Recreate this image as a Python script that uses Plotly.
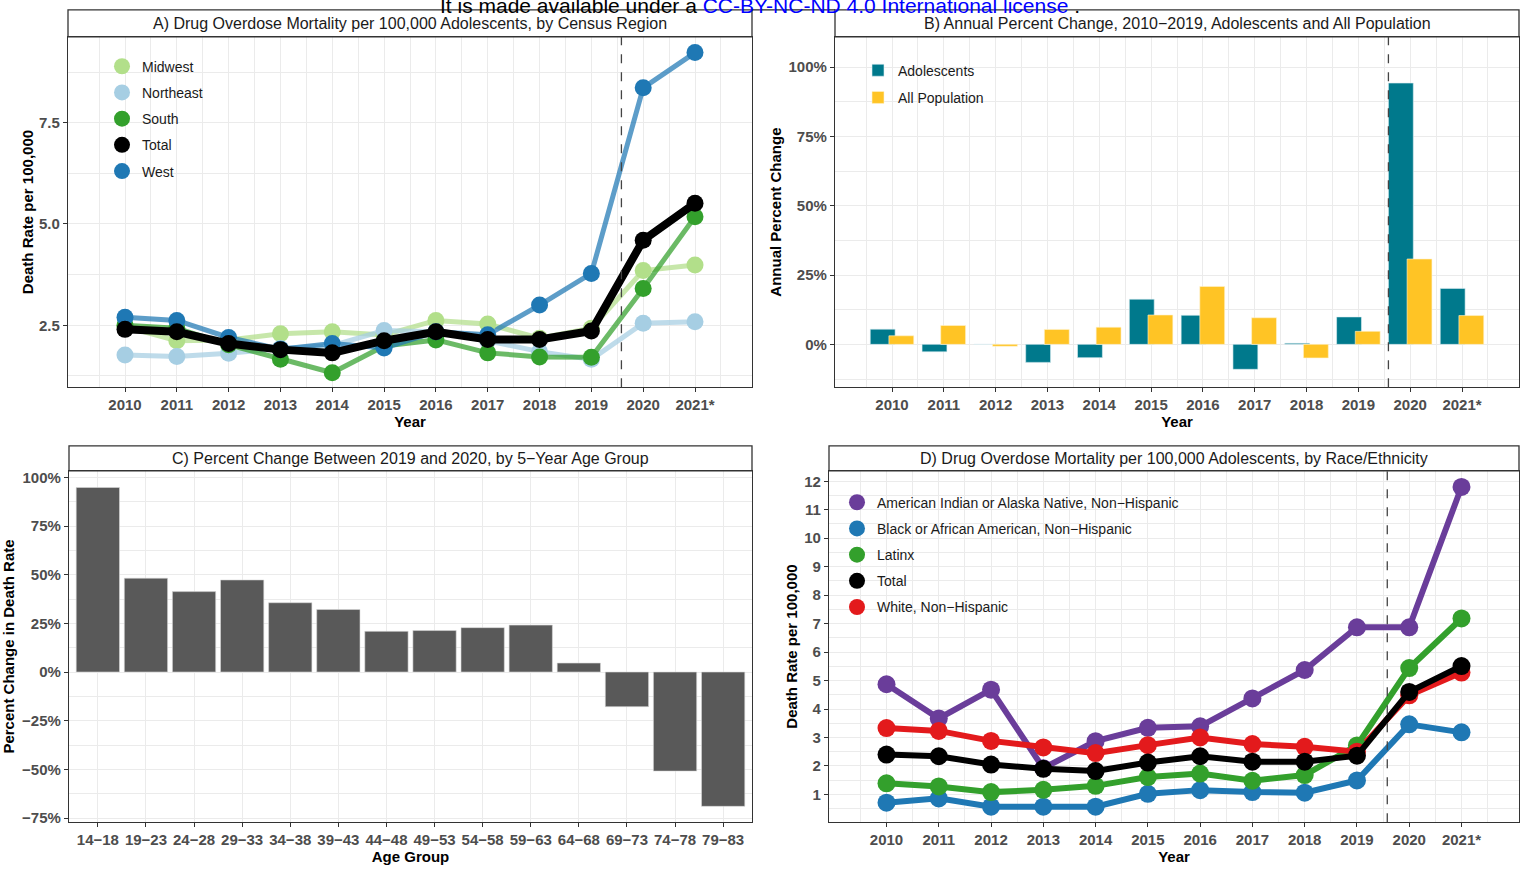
import plotly.graph_objects as go

W, H = 1526, 869
FONT = "Liberation Sans, Arial, sans-serif"

# ---------------- data ----------------
years = [2010, 2011, 2012, 2013, 2014, 2015, 2016, 2017, 2018, 2019, 2020, 2021]
year_labels = ["2010", "2011", "2012", "2013", "2014", "2015", "2016", "2017",
               "2018", "2019", "2020", "2021*"]

# Panel A: deaths per 100,000 adolescents by census region
midwest = [2.47, 2.12, 2.14, 2.29, 2.34, 2.26, 2.62, 2.53, 2.18, 2.43, 3.85, 3.99]
northeast = [1.77, 1.73, 1.81, 1.93, 2.00, 2.37, 2.34, 2.12, 1.85, 1.66, 2.55, 2.59]
south = [2.50, 2.43, 2.02, 1.66, 1.33, 1.99, 2.14, 1.82, 1.72, 1.71, 3.41, 5.18]
west = [2.70, 2.62, 2.20, 1.91, 2.05, 1.94, 2.34, 2.27, 3.00, 3.78, 8.36, 9.23]
total = [2.40, 2.34, 2.05, 1.90, 1.82, 2.12, 2.34, 2.15, 2.15, 2.36, 4.60, 5.51]

# Panel B: annual percent change
adolescents_pct = [5.5, -2.7, 0.0, -6.5, -4.8, 16.3, 10.5, -9.0, 0.4, 9.9, 94.3, 20.2]
all_population_pct = [3.1, 6.8, -0.7, 5.4, 6.2, 10.6, 20.9, 9.6, -4.9, 4.7, 30.8, 10.4]

# Panel C: percent change 2019 -> 2020 by age group
age_groups = ["14−18", "19−23", "24−28", "29−33", "34−38", "39−43", "44−48",
              "49−53", "54−58", "59−63", "64−68", "69−73", "74−78", "79−83"]
age_pct_change = [94.8, 48.2, 41.3, 47.3, 35.6, 32.1, 20.9, 21.3, 22.8, 24.1,
                  4.6, -17.8, -50.9, -69.0]

# Panel D: deaths per 100,000 adolescents by race/ethnicity
aian = [4.87, 3.67, 4.68, 1.92, 2.87, 3.34, 3.39, 4.37, 5.37, 6.87, 6.87, 11.80]
black = [0.71, 0.86, 0.57, 0.57, 0.57, 1.02, 1.15, 1.08, 1.06, 1.49, 3.46, 3.18]
latinx = [1.39, 1.28, 1.08, 1.16, 1.30, 1.61, 1.73, 1.48, 1.68, 2.72, 5.44, 7.18]
white = [3.33, 3.23, 2.88, 2.65, 2.45, 2.73, 3.00, 2.77, 2.67, 2.50, 4.48, 5.28]

COVID_LINE = 2019.58

# ---------------- helpers ----------------
def fx(px):
    return px / W


def fy(py):
    return 1 - py / H


TICKFONT = dict(family=FONT, size=15, color="#4D4D4D", weight="bold")
TITLEFONT = dict(family=FONT, size=15, color="#000000", weight="bold")
LEGFONT = dict(family=FONT, size=14, color="#1A1A1A")
GRID = "#EBEBEB"
FRAME = "#333333"


def base_axis(**kw):
    d = dict(showline=True, mirror=True, linecolor=FRAME, linewidth=1.3,
             ticks="outside", ticklen=4, tickwidth=1.2, tickcolor=FRAME,
             showgrid=True, gridcolor=GRID, gridwidth=1.4, zeroline=False,
             tickfont=TICKFONT)
    d.update(kw)
    return d


panels = {
    "A": (68, 752, 35, 388, 8),
    "B": (835, 1519, 35, 388, 8),
    "C": (69, 752, 472, 826, 447),
    "D": (829, 1519, 472, 826, 447),
}

fig = go.Figure()

# ---------------- Panel A ----------------
region_series = [
    ("Midwest", midwest, "#B2DF8A", 1),
    ("Northeast", northeast, "#A6CEE3", 2),
    ("South", south, "#33A02C", 3),
    ("West", west, "#1F78B4", 5),
]
for name, vals, col, rk in region_series:
    fig.add_trace(go.Scatter(x=years, y=vals, mode="lines", line=dict(color=col, width=5),
                             opacity=0.72, showlegend=False, hoverinfo="skip",
                             xaxis="x", yaxis="y"))
for name, vals, col, rk in region_series:
    fig.add_trace(go.Scatter(x=years, y=vals, mode="markers", name=name,
                             marker=dict(color=col, size=17), legend="legend",
                             legendgroup="A" + name, legendrank=rk, xaxis="x", yaxis="y"))
fig.add_trace(go.Scatter(x=years, y=total, mode="lines", line=dict(color="#000000", width=8),
                         showlegend=False, xaxis="x", yaxis="y"))
fig.add_trace(go.Scatter(x=years, y=total, mode="markers", name="Total",
                         marker=dict(color="#000000", size=17), legend="legend",
                         legendgroup="ATotal", legendrank=4, xaxis="x", yaxis="y"))

# ---------------- Panel B ----------------
fig.add_trace(go.Bar(x=years, y=adolescents_pct, name="Adolescents", offset=-0.42, width=0.48,
                     marker=dict(color="#00798C", line=dict(color="#DDEFF1", width=0.6)),
                     legend="legend2", legendgroup="B1", xaxis="x2", yaxis="y2"))
fig.add_trace(go.Bar(x=years, y=all_population_pct, name="All Population", offset=-0.06, width=0.48,
                     marker=dict(color="#FFC425", line=dict(color="#FFF3D0", width=0.6)),
                     legend="legend2", legendgroup="B2", xaxis="x2", yaxis="y2"))

# ---------------- Panel C ----------------
fig.add_trace(go.Bar(x=age_groups, y=age_pct_change, width=0.9, showlegend=False,
                     marker=dict(color="#595959", line=dict(color="#D9D9D9", width=0.6)),
                     xaxis="x3", yaxis="y3"))

# ---------------- Panel D ----------------
race_series = [
    ("American Indian or Alaska Native, Non−Hispanic", aian, "#6A3D9A", 1),
    ("Black or African American, Non−Hispanic", black, "#1F78B4", 2),
    ("Latinx", latinx, "#33A02C", 3),
    ("White, Non−Hispanic", white, "#E31A1C", 5),
]
for name, vals, col, rk in race_series:
    fig.add_trace(go.Scatter(x=years, y=vals, mode="lines", line=dict(color=col, width=6),
                             showlegend=False, xaxis="x4", yaxis="y4"))
for name, vals, col, rk in race_series:
    fig.add_trace(go.Scatter(x=years, y=vals, mode="markers", name=name,
                             marker=dict(color=col, size=18), legend="legend3",
                             legendgroup="D" + name, legendrank=rk, xaxis="x4", yaxis="y4"))
fig.add_trace(go.Scatter(x=years, y=total, mode="lines", line=dict(color="#000000", width=6),
                         showlegend=False, xaxis="x4", yaxis="y4"))
fig.add_trace(go.Scatter(x=years, y=total, mode="markers", name="Total",
                         marker=dict(color="#000000", size=18), legend="legend3",
                         legendgroup="DTotal", legendrank=4, xaxis="x4", yaxis="y4"))

# ---------------- axes ----------------
year_minor = dict(tick0=2009.5, dtick=1, showgrid=True, gridcolor=GRID, gridwidth=0.8, ticks="")


def year_axis(key, yk):
    x0, x1, y0, y1, s0 = panels[key]
    return base_axis(domain=[fx(x0), fx(x1)], anchor=yk, range=[2008.9, 2022.1],
                     tickmode="array", tickvals=years, ticktext=year_labels,
                     minor=year_minor,
                     title=dict(text="Year", font=TITLEFONT, standoff=3))


def ydom(key):
    x0, x1, y0, y1, s0 = panels[key]
    return [fy(y1), fy(y0)]


layout = dict(
    width=W, height=H, margin=dict(l=0, r=0, t=0, b=0),
    paper_bgcolor="white", plot_bgcolor="white", barmode="overlay",
    font=dict(family=FONT),
    xaxis=year_axis("A", "y"),
    yaxis=base_axis(domain=ydom("A"), anchor="x", range=[0.97, 9.62],
                    tickmode="array", tickvals=[2.5, 5.0, 7.5], ticktext=["2.5", "5.0", "7.5"],
                    minor=dict(tick0=1.25, dtick=2.5, showgrid=True, gridcolor=GRID, gridwidth=0.8, ticks=""),
                    title=dict(text="Death Rate per 100,000", font=TITLEFONT, standoff=1)),
    xaxis2=year_axis("B", "y2"),
    yaxis2=base_axis(domain=ydom("B"), anchor="x2", range=[-15.5, 111],
                     tickmode="array", tickvals=[0, 25, 50, 75, 100],
                     ticktext=["0%", "25%", "50%", "75%", "100%"],
                     minor=dict(tick0=-12.5, dtick=25, showgrid=True, gridcolor=GRID, gridwidth=0.8, ticks=""),
                     title=dict(text="Annual Percent Change", font=TITLEFONT, standoff=3)),
    xaxis3=base_axis(domain=[fx(panels["C"][0]), fx(panels["C"][1])], anchor="y3",
                     type="category", range=[-0.6, 13.6],
                     title=dict(text="Age Group", font=TITLEFONT, standoff=3)),
    yaxis3=base_axis(domain=ydom("C"), anchor="x3", range=[-77.2, 103.4],
                     tickmode="array", tickvals=[-75, -50, -25, 0, 25, 50, 75, 100],
                     ticktext=["−75%", "−50%", "−25%", "0%", "25%", "50%", "75%", "100%"],
                     minor=dict(tick0=-62.5, dtick=25, showgrid=True, gridcolor=GRID, gridwidth=0.8, ticks=""),
                     title=dict(text="Percent Change in Death Rate", font=TITLEFONT, standoff=4)),
    xaxis4=year_axis("D", "y4"),
    yaxis4=base_axis(domain=ydom("D"), anchor="x4", range=[0.02, 12.37],
                     tickmode="array", tickvals=list(range(1, 13)),
                     minor=dict(tick0=0.5, dtick=1, showgrid=True, gridcolor=GRID, gridwidth=0.8, ticks=""),
                     title=dict(text="Death Rate per 100,000", font=TITLEFONT, standoff=2)),
    legend=dict(x=fx(102), y=fy(49), xanchor="left", yanchor="top", bgcolor="rgba(0,0,0,0)",
                font=LEGFONT, itemsizing="trace", tracegroupgap=5),
    legend2=dict(x=fx(858), y=fy(53), xanchor="left", yanchor="top", bgcolor="rgba(0,0,0,0)",
                 font=LEGFONT, tracegroupgap=6),
    legend3=dict(x=fx(837), y=fy(488), xanchor="left", yanchor="top", bgcolor="rgba(0,0,0,0)",
                 font=LEGFONT, itemsizing="trace", tracegroupgap=5),
)
fig.update_layout(**layout)

# ---------------- strips, titles, reference lines ----------------
strip_titles = {
    "A": "A) Drug Overdose Mortality per 100,000 Adolescents, by Census Region",
    "B": "B) Annual Percent Change, 2010−2019, Adolescents and All Population",
    "C": "C) Percent Change Between 2019 and 2020, by 5−Year Age Group",
    "D": "D) Drug Overdose Mortality per 100,000 Adolescents, by Race/Ethnicity",
}
for key, (x0, x1, y0, y1, s0) in panels.items():
    fig.add_shape(type="rect", xref="paper", yref="paper", x0=fx(x0), x1=fx(x1),
                  y0=fy(y0), y1=fy(s0), line=dict(color=FRAME, width=1.3), fillcolor="white")
    fig.add_annotation(xref="paper", yref="paper", x=fx((x0 + x1) / 2), y=fy((y0 + s0) / 2),
                       text=strip_titles[key], showarrow=False, xanchor="center", yanchor="middle",
                       font=dict(family=FONT, size=16, color="#1A1A1A"))

# header rule joining the two top strips
fig.add_shape(type="line", xref="paper", yref="paper", x0=fx(752), x1=fx(835),
              y0=fy(8), y1=fy(8), line=dict(color="#222222", width=1.3))

for xr in ["x", "x2", "x4"]:
    fig.add_shape(type="line", xref=xr, yref=xr.replace("x", "y") + " domain",
                  x0=COVID_LINE, x1=COVID_LINE, y0=0, y1=1,
                  line=dict(color="#444444", width=1.3, dash="dash"))

fig.add_annotation(xref="paper", yref="paper", x=fx(760), y=fy(17), xanchor="center", yanchor="bottom",
                   text="It is made available under a <span style='color:#0000FF'>CC-BY-NC-ND 4.0 International license</span> .",
                   showarrow=False, font=dict(family=FONT, size=21, color="#000000"))

fig.write_html("out.html", config={"displayModeBar": False},
               post_script="document.body.style.margin='0';document.body.style.padding='0';")
